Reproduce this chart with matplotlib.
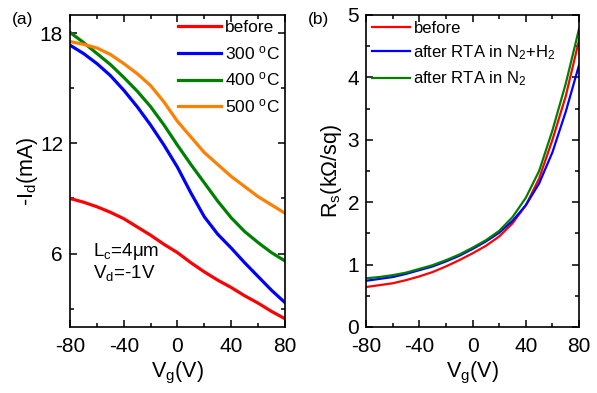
import matplotlib
matplotlib.use("Agg")
import matplotlib.pyplot as plt
from matplotlib.ticker import MultipleLocator

plt.rcParams["font.family"] = ["Liberation Sans", "DejaVu Sans"]
plt.rcParams["mathtext.default"] = "regular"
plt.rcParams["axes.unicode_minus"] = False

# gate voltage (V)
vg = [-80, -70, -60, -50, -40, -30, -20, -10, 0, 10, 20, 30, 40, 50, 60, 70, 80]

# (a) -Id (mA)
id_before = [9.0, 8.8, 8.55, 8.25, 7.9, 7.45, 7.0, 6.5, 6.05, 5.5, 5.0, 4.55, 4.15, 3.7, 3.3, 2.85, 2.45]
id_300 = [17.35, 16.9, 16.35, 15.7, 14.9, 14.0, 13.0, 11.9, 10.7, 9.3, 8.0, 7.05, 6.3, 5.5, 4.75, 4.0, 3.33]
id_400 = [18.05, 17.5, 16.9, 16.3, 15.6, 14.85, 14.0, 13.0, 11.9, 10.85, 9.85, 8.85, 7.95, 7.2, 6.6, 6.05, 5.6]
id_500 = [17.55, 17.4, 17.2, 16.85, 16.35, 15.8, 15.15, 14.25, 13.2, 12.35, 11.5, 10.85, 10.2, 9.65, 9.1, 8.65, 8.2]

# (b) Rs (kOhm/sq)
rs_before = [0.64, 0.67, 0.70, 0.75, 0.81, 0.88, 0.97, 1.07, 1.18, 1.30, 1.45, 1.66, 1.95, 2.38, 3.0, 3.7, 4.6]
rs_n2h2 = [0.74, 0.77, 0.80, 0.85, 0.91, 0.97, 1.05, 1.14, 1.25, 1.37, 1.51, 1.70, 1.95, 2.30, 2.8, 3.45, 4.2]
rs_n2 = [0.78, 0.80, 0.83, 0.87, 0.93, 0.99, 1.07, 1.16, 1.27, 1.39, 1.54, 1.76, 2.07, 2.50, 3.15, 3.9, 4.78]


def style_axes(ax):
    for sp in ax.spines.values():
        sp.set_linewidth(1.2)
    ax.tick_params(which="both", direction="in", top=True, right=True, width=1.1)
    ax.tick_params(which="major", length=5, labelsize=15, pad=5)
    ax.tick_params(axis="x", which="major", pad=7)
    ax.tick_params(which="minor", length=3)
    ax.set_xlim(-80, 80)
    ax.xaxis.set_major_locator(MultipleLocator(40))
    ax.xaxis.set_minor_locator(MultipleLocator(20))
    ax.set_xlabel("V$_g$(V)", fontsize=15.5, labelpad=3)


fig = plt.figure(figsize=(5.97, 3.93), dpi=100)
ax1 = fig.add_axes([0.1173, 0.168, 0.360, 0.794])
ax2 = fig.add_axes([0.613, 0.168, 0.357, 0.794])

ax1.plot(vg, id_before, color="#ff0000", lw=2.3, label="before")
ax1.plot(vg, id_300, color="#0000ff", lw=2.3, label="300 $^{o}$C")
ax1.plot(vg, id_400, color="#008000", lw=2.3, label="400 $^{o}$C")
ax1.plot(vg, id_500, color="#ff8000", lw=2.3, label="500 $^{o}$C")
style_axes(ax1)
ax1.set_ylim(2, 19)
ax1.yaxis.set_major_locator(MultipleLocator(6))
ax1.yaxis.set_minor_locator(MultipleLocator(3))
ax1.set_ylabel("-I$_d$(mA)", fontsize=15.5, labelpad=0)
ax1.legend(loc="upper right", bbox_to_anchor=(1.0, 1.0), frameon=False, fontsize=12.5,
           handlelength=2.5, handletextpad=0.2, labelspacing=0.5, borderaxespad=0.0,
           borderpad=0.3)
ax1.text(-63, 6.1, "L$_c$=4μm", fontsize=13.5, va="center")
ax1.text(-63, 4.95, "V$_d$=-1V", fontsize=13.5, va="center")
fig.text(0.02, 0.95, "(a)", fontsize=12.5, va="center")

ax2.plot(vg, rs_before, color="#ff0000", lw=1.6, label="before")
ax2.plot(vg, rs_n2h2, color="#0000ff", lw=1.6, label="after RTA in N$_2$+H$_2$")
ax2.plot(vg, rs_n2, color="#008000", lw=1.6, label="after RTA in N$_2$")
style_axes(ax2)
ax2.set_ylim(0, 5)
ax2.yaxis.set_major_locator(MultipleLocator(1))
ax2.yaxis.set_minor_locator(MultipleLocator(0.5))
ax2.set_ylabel("R$_s$(kΩ/sq)", fontsize=15.5, labelpad=2)
ax2.legend(loc="upper left", bbox_to_anchor=(0.0, 1.0), frameon=False, fontsize=12,
           handlelength=2.3, handletextpad=0.2, labelspacing=0.45, borderaxespad=0.15,
           borderpad=0.2)
fig.text(0.515, 0.95, "(b)", fontsize=12.5, va="center")

fig.savefig("out.png", dpi=100)
